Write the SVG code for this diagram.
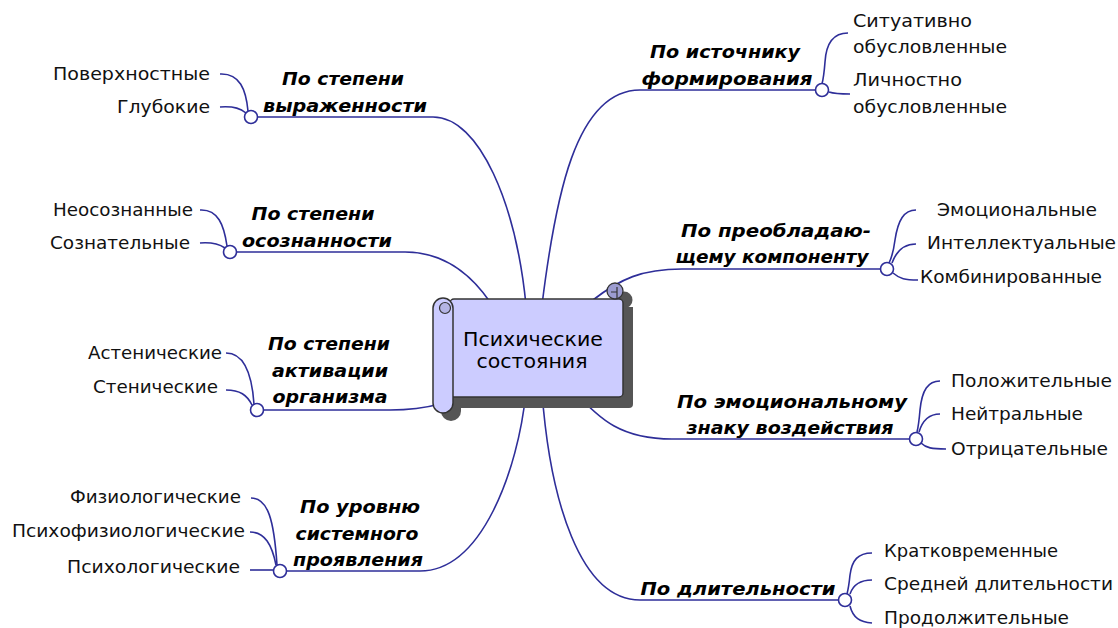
<svg xmlns="http://www.w3.org/2000/svg" width="1118" height="628" viewBox="0 0 1118 628">
<style>
.c{fill:none;stroke:#2e2e99;stroke-width:1.6}
.k{fill:#fff;stroke:#2e2e99;stroke-width:1.6}
.b{font-family:"DejaVu Sans",Verdana,sans-serif;font-size:18.5px;font-weight:bold;font-style:italic;fill:#000;text-anchor:middle}
.l{font-family:"DejaVu Sans",Verdana,sans-serif;font-size:18px;fill:#111}
.r{text-anchor:end}
.m{font-family:"DejaVu Sans",Verdana,sans-serif;font-size:20px;fill:#000;text-anchor:middle}
</style>
<rect width="1118" height="628" fill="#fff"/>
<g id="connectors">
<path class="c" d="M251 117 H433 C480 117 516 205 526 305"/>
<path class="c" d="M230 252 H405 C440 252 468 270 490 302"/>
<path class="c" d="M257 410 H390 C410 410 425 408 440 404"/>
<path class="c" d="M280 571 H420 C482 571 518 470 526 392"/>
<path class="c" d="M542 305 C555 200 575 90 640 90 H822"/>
<path class="c" d="M593 300 C620 279 642 269 682 269 H887"/>
<path class="c" d="M575 392 C600 420 622 439 672 439 H916"/>
<path class="c" d="M542 392 C550 500 580 600 640 600 H845"/>
<path class="c" d="M220 74 C240 73 246 90 248 111"/>
<path class="c" d="M220 107 C235 106 241 109 246 113"/>
<path class="c" d="M200 210 C218 209 224 225 227 246"/>
<path class="c" d="M200 243 C212 242 219 244 225 248"/>
<path class="c" d="M226 353 C245 353 252 375 254 404"/>
<path class="c" d="M226 390 C240 390 247 395 252 405"/>
<path class="c" d="M251 498 C268 498 274 520 277 565"/>
<path class="c" d="M250 532 C265 532 272 545 276 565"/>
<path class="c" d="M250 570 H274"/>
<path class="c" d="M848 33 C832 33 826 45 825 62 C824 75 823 80 822 84"/>
<path class="c" d="M829 92 C835 94 840 94 850 94"/>
<path class="c" d="M916 210 C904 210 898 220 895 240 C893 255 891 259 889 263"/>
<path class="c" d="M916 244 C903 244 896 252 892 263"/>
<path class="c" d="M893 273 C900 279 905 280 918 280"/>
<path class="c" d="M940 381 C928 381 922 390 920 410 C919 422 918 428 917 432"/>
<path class="c" d="M940 414 C928 414 922 422 919 432"/>
<path class="c" d="M921 443 C926 448 932 449 946 449"/>
<path class="c" d="M872 553 C858 553 852 560 850 575 C849 585 848 590 847 594"/>
<path class="c" d="M872 580 C860 580 853 585 850 594"/>
<path class="c" d="M850 606 C853 618 860 622 872 623"/>
<circle class="k" cx="251" cy="117" r="6.5"/>
<circle class="k" cx="230" cy="252" r="6.5"/>
<circle class="k" cx="257" cy="410" r="6.5"/>
<circle class="k" cx="280" cy="571" r="6.5"/>
<circle class="k" cx="822" cy="90" r="6.5"/>
<circle class="k" cx="887" cy="269" r="6.5"/>
<circle class="k" cx="916" cy="439" r="6.5"/>
<circle class="k" cx="845" cy="600" r="6.5"/>
</g>
<g id="center">
<path d="M458 307 H633 V404 Q633 408 629 408 H458 Z" fill="#555"/>
<rect x="441" y="308" width="20" height="113" rx="10" fill="#555"/>
<circle cx="624" cy="300" r="8.5" fill="#555"/>
<rect x="450" y="299" width="173" height="98" rx="4" fill="#ccccff" stroke="#333" stroke-width="1.5"/>
<circle cx="615" cy="291" r="8" fill="#9c9cd0" stroke="#333" stroke-width="1.3"/>
<path d="M611 292 H617 V287 M617 292 V298" fill="none" stroke="#333" stroke-width="1.2"/>
<rect x="433" y="298" width="20" height="115" rx="10" fill="#ccccff" stroke="#333" stroke-width="1.5"/>
<circle cx="445" cy="308" r="5.5" fill="#b4b4e4" stroke="#333" stroke-width="1.2"/>
<text class="m" x="533" y="346" textLength="140" lengthAdjust="spacingAndGlyphs">Психические</text>
<text class="m" x="532" y="368" textLength="111" lengthAdjust="spacingAndGlyphs">состояния</text>
</g>
<g id="b1">
<text class="b" x="343" y="85" textLength="122" lengthAdjust="spacingAndGlyphs">По степени</text>
<text class="b" x="345" y="112" textLength="164" lengthAdjust="spacingAndGlyphs">выраженности</text>
</g>
<g id="b2">
<text class="b" x="313" y="220" textLength="123" lengthAdjust="spacingAndGlyphs">По степени</text>
<text class="b" x="317" y="247" textLength="150" lengthAdjust="spacingAndGlyphs">осознанности</text>
</g>
<g id="b3">
<text class="b" x="329" y="350" textLength="122" lengthAdjust="spacingAndGlyphs">По степени</text>
<text class="b" x="330" y="377" textLength="116" lengthAdjust="spacingAndGlyphs">активации</text>
<text class="b" x="330" y="403" textLength="115" lengthAdjust="spacingAndGlyphs">организма</text>
</g>
<g id="b4">
<text class="b" x="360" y="513" textLength="120" lengthAdjust="spacingAndGlyphs">По уровню</text>
<text class="b" x="357" y="540" textLength="123" lengthAdjust="spacingAndGlyphs">системного</text>
<text class="b" x="358" y="566" textLength="130" lengthAdjust="spacingAndGlyphs">проявления</text>
</g>
<g id="b5">
<text class="b" x="725" y="58" textLength="150" lengthAdjust="spacingAndGlyphs">По источнику</text>
<text class="b" x="727" y="85" textLength="171" lengthAdjust="spacingAndGlyphs">формирования</text>
</g>
<g id="b6">
<text class="b" x="776" y="237" textLength="190" lengthAdjust="spacingAndGlyphs">По преобладаю-</text>
<text class="b" x="772" y="263" textLength="193" lengthAdjust="spacingAndGlyphs">щему компоненту</text>
</g>
<g id="b7">
<text class="b" x="792" y="408" textLength="230" lengthAdjust="spacingAndGlyphs">По эмоциональному</text>
<text class="b" x="790" y="434" textLength="207" lengthAdjust="spacingAndGlyphs">знаку воздействия</text>
</g>
<g id="b8">
<text class="b" x="738" y="595" textLength="195" lengthAdjust="spacingAndGlyphs">По длительности</text>
</g>
<g id="leaves-left">
<text class="l r" x="210" y="80" textLength="157" lengthAdjust="spacingAndGlyphs">Поверхностные</text>
<text class="l r" x="210" y="113" textLength="93" lengthAdjust="spacingAndGlyphs">Глубокие</text>
<text class="l r" x="193" y="216" textLength="140" lengthAdjust="spacingAndGlyphs">Неосознанные</text>
<text class="l r" x="190" y="249" textLength="140" lengthAdjust="spacingAndGlyphs">Сознательные</text>
<text class="l r" x="222" y="359" textLength="134" lengthAdjust="spacingAndGlyphs">Астенические</text>
<text class="l r" x="218" y="393" textLength="125" lengthAdjust="spacingAndGlyphs">Стенические</text>
<text class="l r" x="241" y="503" textLength="171" lengthAdjust="spacingAndGlyphs">Физиологические</text>
<text class="l r" x="245" y="537" textLength="233" lengthAdjust="spacingAndGlyphs">Психофизиологические</text>
<text class="l r" x="240" y="573" textLength="173" lengthAdjust="spacingAndGlyphs">Психологические</text>
</g>
<g id="leaves-right">
<text class="l" x="853" y="27" textLength="119" lengthAdjust="spacingAndGlyphs">Ситуативно</text>
<text class="l" x="853" y="53" textLength="154" lengthAdjust="spacingAndGlyphs">обусловленные</text>
<text class="l" x="853" y="86" textLength="109" lengthAdjust="spacingAndGlyphs">Личностно</text>
<text class="l" x="853" y="113" textLength="154" lengthAdjust="spacingAndGlyphs">обусловленные</text>
<text class="l" x="937" y="216" textLength="160" lengthAdjust="spacingAndGlyphs">Эмоциональные</text>
<text class="l" x="927" y="249" textLength="189" lengthAdjust="spacingAndGlyphs">Интеллектуальные</text>
<text class="l" x="920" y="283" textLength="182" lengthAdjust="spacingAndGlyphs">Комбинированные</text>
<text class="l" x="951" y="387" textLength="161" lengthAdjust="spacingAndGlyphs">Положительные</text>
<text class="l" x="951" y="420" textLength="132" lengthAdjust="spacingAndGlyphs">Нейтральные</text>
<text class="l" x="951" y="455" textLength="157" lengthAdjust="spacingAndGlyphs">Отрицательные</text>
<text class="l" x="884" y="557" textLength="174" lengthAdjust="spacingAndGlyphs">Кратковременные</text>
<text class="l" x="884" y="590" textLength="229" lengthAdjust="spacingAndGlyphs">Средней длительности</text>
<text class="l" x="884" y="624" textLength="185" lengthAdjust="spacingAndGlyphs">Продолжительные</text>
</g>
</svg>
